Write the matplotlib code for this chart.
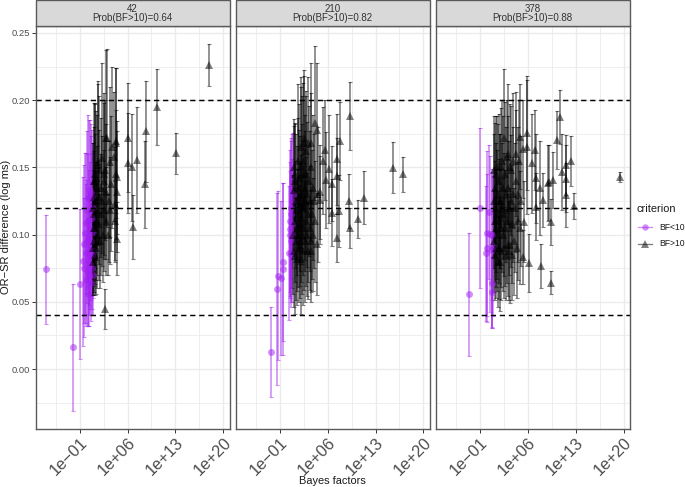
import matplotlib
matplotlib.use("Agg")
import matplotlib.pyplot as plt
from matplotlib.lines import Line2D
from matplotlib.patches import Rectangle
from matplotlib.ticker import FixedLocator, FixedFormatter, NullFormatter
import numpy as np

plt.rcParams['font.family'] = ['Liberation Sans', 'DejaVu Sans']

panel_names = ["42", "210", "378"]
panel_probs = ["Prob(BF>10)=0.64", "Prob(BF>10)=0.82", "Prob(BF>10)=0.88"]
reference_lines = [0.04, 0.12, 0.20]
x_tick_exponents = [-1, 6, 13, 20]
x_tick_labels = ["1e\u221201", "1e+06", "1e+13", "1e+20"]
y_tick_values = [0.00, 0.05, 0.10, 0.15, 0.20, 0.25]
y_tick_labels = ["0.00", "0.05", "0.10", "0.15", "0.20", "0.25"]

# log10 Bayes factor, mean, half-width of the interval
p42_low_x = [-5.94, -2.0, -1.0, -0.5, -0.4, -0.3, -0.2, -0.1, 0.0, 0.0,
             0.05, 0.1, 0.15, 0.2, 0.2, 0.25, 0.3, 0.3, 0.35, 0.4,
             0.45, 0.5, 0.5, 0.55, 0.6, 0.65, 0.7, 0.7, 0.75, 0.8,
             0.85, 0.85, 0.9, 0.92, 0.95, 0.98]
p42_low_m = [.0742, .0161, .0630, .0803, .0754, .0930, .1010, .1085, .0860, .0660,
             .1180, .0950, .1270, .0720, .1100, .0560, .0850, .1330, .0980, .0690,
             .1270, .0780, .1040, .0880, .1180, .0640, .1320, .0950, .0750, .1120,
             .0850, .1280, .0700, .1020, .0880, .1200]
p42_low_e = [.0405, .0475, .0557, .0628, .0517, .0590, .0600, .0525, .0520, .0340,
             .0590, .0460, .0620, .0400, .0500, .0240, .0450, .0520, .0500, .0370,
             .0580, .0380, .0500, .0430, .0550, .0280, .0500, .0440, .0350, .0490,
             .0400, .0500, .0300, .0450, .0350, .0480]

p42_high_x = [17.93, 13.15, 10.33, 8.77, 8.48, 7.41, 6.68, 6.78, 6.09, 6.09, 2.73,
              4.48, 4.48, 4.48, 4.35, 4.3, 4.25, 4.2, 4.1, 3.95, 3.75,
              3.6, 3.5, 3.46, 3.3, 3.2, 3.07, 2.87, 2.9, 2.8, 2.7,
              2.6, 2.55, 2.5, 2.4, 2.3, 2.2, 2.15, 2.05, 2.0, 1.9,
              1.85, 1.8, 1.7, 1.66, 1.6, 1.55, 1.5, 1.45, 1.4, 1.35,
              1.3, 1.25, 1.2, 1.2, 1.15, 1.1, 1.1, 1.05, 1.03, 1.02,
              1.0, 1.0, 1.27]
p42_high_m = [.2262, .1605, .1948, .1768, .1374, .1553, .1500, .1057, .1720, .1535, .0448,
              .1427, .1320, .0970, .1700, .1680, .1450, .1230, .1100, .1580, .1650,
              .1380, .1180, .1540, .1250, .1000, .1720, .1720, .1320, .1100, .1480,
              .1400, .1180, .1450, .1000, .1250, .1570, .1150, .1350, .0950, .1480,
              .1080, .1280, .1540, .1520, .1180, .1000, .1350, .1100, .0900, .1420,
              .1250, .1050, .1450, .0850, .1150, .1280, .0950, .1400, .1050, .0800,
              .1200, .0900, .1400]
p42_high_e = [.0157, .0152, .0284, .0375, .0325, .0393, .0396, .0241, .0406, .0373, .0149,
              .0420, .0450, .0270, .0540, .0560, .0480, .0420, .0300, .0480, .0600,
              .0500, .0400, .0560, .0450, .0300, .0660, .0650, .0500, .0400, .0520,
              .0580, .0450, .0600, .0350, .0480, .0710, .0450, .0520, .0350, .0550,
              .0420, .0500, .0600, .0600, .0480, .0400, .0540, .0440, .0340, .0500,
              .0500, .0420, .0520, .0300, .0470, .0520, .0380, .0580, .0430, .0250,
              .0480, .0350, .0580]

p210_low_x = [-2.27, -1.34, -1.3, -0.76, -0.56, -0.5, 0.32, 0.45, 0.5,
              0.55, 0.6, 0.62, 0.65, 0.7, 0.75, 0.8, 0.85, 0.9]
p210_low_m = [.0124, .0595, .0694, .0677, .0744, .0796, .0863, .1000, .1100,
              .1040, .1150, .0860, .1200, .0950, .1000, .1250, .1080, .1300]
p210_low_e = [.0335, .0711, .0627, .0575, .0640, .0590, .0500, .0470, .0530,
              .0500, .0550, .0400, .0520, .0450, .0500, .0500, .0480, .0456]

p210_high_x = [17.05, 15.49, 11.34, 10.37, 9.34, 9.05, 9.24, 7.78, 7.63, 7.3,
               7.39, 7.39, 6.7, 6.7, 6.17, 5.83, 5.59, 5.34, 4.85, 4.85,
               4.5, 4.12, 3.6,
               1.0, 1.05, 1.1, 1.15, 1.2, 1.25, 1.3, 1.3, 1.35, 1.4,
               1.45, 1.5, 1.55, 1.6, 1.65, 1.7, 1.75, 1.8, 1.85, 1.9,
               1.95, 2.0, 2.05, 2.07, 2.1, 2.15, 2.2, 2.25, 2.3, 2.35,
               2.4, 2.45, 2.5, 2.55, 2.6, 2.65, 2.7, 2.75, 2.8, 2.85,
               2.9, 2.95, 3.0, 3.1, 3.1, 3.2, 3.3, 3.4, 3.45, 3.5,
               3.6, 3.63, 3.7, 3.8, 3.9, 4.0, 4.2, 4.4, 4.6]
p210_high_m = [.1448, .1499, .1276, .1116, .1880, .1250, .1050, .1700, .1176, .0977,
               .1560, .1436, .1380, .1163, .1488, .1406, .1630, .1550, .1320, .1257,
               .1778, .1830, .1680,
               .1000, .1330, .0880, .1500, .0840, .1400, .1450, .1100, .0950, .1250,
               .0820, .1180, .1000, .1350, .1550, .1050, .1280, .0900, .1420, .1080,
               .1230, .0950, .1500, .0820, .1120, .1650, .1300, .1000, .1450, .0880,
               .1200, .1550, .1050, .1680, .1720, .1350, .0950, .1250, .1620, .1100,
               .1450, .1000, .1300, .1680, .1150, .0880, .1400, .1050, .1250, .0950,
               .1500, .0880, .1150, .1350, .1000, .1250, .1100, .0930, .1300]
p210_high_e = [.0133, .0192, .0197, .0141, .0253, .0200, .0150, .0290, .0270, .0180,
               .0340, .0280, .0280, .0250, .0400, .0360, .0370, .0400, .0350, .0330,
               .0500, .0570, .0600,
               .0440, .0480, .0420, .0360, .0430, .0420, .0380, .0450, .0440, .0500,
               .0340, .0480, .0420, .0520, .0570, .0440, .0500, .0400, .0550, .0460,
               .0500, .0420, .0600, .0410, .0470, .0520, .0520, .0440, .0580, .0400,
               .0500, .0580, .0460, .0500, .0505, .0540, .0450, .0520, .0450, .0480,
               .0580, .0460, .0540, .0490, .0500, .0360, .0560, .0460, .0520, .0380,
               .0550, .0380, .0480, .0540, .0420, .0500, .0450, .0380, .0500]

p378_low_x = [-2.56, -1.0, -0.02, 0.07, -0.07, 0.27, 0.51, 0.76, 0.9, 0.8, 0.8, 0.76]
p378_low_m = [.0555, .1198, .1010, .0900, .0860, .1168, .1003, .1000, .0915, .0885, .0643, .0575]
p378_low_e = [.0458, .0597, .0615, .0550, .0500, .0500, .0580, .0490, .0520, .0580, .0340, .0260]

p378_high_x = [19.44, 12.76, 12.27, 11.63, 11.63, 11.6, 11.0, 10.66, 10.27, 9.34,
               9.34, 9.73, 9.15, 8.9, 8.2, 7.83, 7.88, 7.05, 7.15, 7.15,
               6.66, 6.1, 5.83, 5.83, 5.29, 5.5, 5.3, 4.8,
               1.0, 1.05, 1.1, 1.15, 1.2, 1.25, 1.3, 1.3, 1.35, 1.4,
               1.45, 1.5, 1.55, 1.6, 1.7, 1.75, 1.8, 1.85, 1.9, 2.0,
               2.0, 2.05, 2.1, 2.15, 2.2, 2.25, 2.3, 2.4, 2.45, 2.5,
               2.56, 2.6, 2.7, 2.75, 2.8, 2.9, 3.0, 3.05, 3.1, 3.15,
               3.2, 3.3, 3.4, 3.44, 3.5, 3.6, 3.65, 3.7, 3.8, 3.9,
               4.0, 4.1, 4.2, 4.3, 4.4, 4.5, 4.6, 4.7, 4.85, 5.0]
p378_high_m = [.1429, .1213, .1545, .1518, .1416, .1295, .1466, .1877, .1704, .1096,
               .0642, .1406, .1390, .1385, .1257, .1346, .0766, .1630, .1420, .1208,
               .1530, .0789, .1756, .1650, .0836, .1096, .1637, .1729,
               .1250, .0950, .1480, .1100, .0850, .1350, .1450, .1050, .1200, .0900,
               .1500, .1150, .1000, .1300, .0800, .1400, .1100, .0900, .1250, .0800,
               .1250, .1500, .1050, .0880, .1550, .1200, .1000, .1350, .0900, .1150,
               .1720, .1450, .1050, .0850, .1300, .1580, .1100, .0920, .1600, .1350,
               .1200, .0880, .1500, .0920, .1250, .1480, .1080, .0850, .1300, .1550,
               .0950, .1200, .1400, .1600, .0900, .1100, .1300, .1550, .1050, .1250]
p378_high_e = [.0036, .0098, .0185, .0220, .0250, .0238, .0280, .0200, .0216, .0170,
               .0085, .0210, .0280, .0280, .0200, .0350, .0163, .0297, .0330, .0250,
               .0370, .0214, .0424, .0500, .0200, .0300, .0363, .0390,
               .0500, .0380, .0400, .0450, .0340, .0480, .0430, .0440, .0480, .0370,
               .0380, .0480, .0420, .0520, .0340, .0500, .0460, .0380, .0500, .0370,
               .0500, .0440, .0440, .0370, .0450, .0480, .0420, .0530, .0370, .0460,
               .0513, .0540, .0430, .0340, .0500, .0420, .0460, .0380, .0518, .0530,
               .0500, .0370, .0470, .0430, .0490, .0480, .0440, .0340, .0500, .0500,
               .0400, .0480, .0530, .0460, .0370, .0440, .0500, .0450, .0420, .0480]

low_sets = [(p42_low_x, p42_low_m, p42_low_e), (p210_low_x, p210_low_m, p210_low_e), (p378_low_x, p378_low_m, p378_low_e)]
high_sets = [(p42_high_x, p42_high_m, p42_high_e), (p210_high_x, p210_high_m, p210_high_e), (p378_high_x, p378_high_m, p378_high_e)]

W, H = 685, 487
fig = plt.figure(figsize=(W / 100, H / 100), dpi=100)

PURPLE = "#A020F0"
BLACK = "#000000"
GRID = "#EBEBEB"
BORDER = "#5A5A5A"
panel_left = [35.5, 235.6, 435.8]
panel_w = 194.0
panel_top, panel_bottom = 26.0, 429.0
strip_top = 0.5


def draw(ax, xs, ms, es, color, marker, ms_size):
    x = 10.0 ** np.array(xs)
    m = np.array(ms)
    e = np.array(es)
    ax.errorbar(x, m, yerr=e, fmt='none', ecolor=color, alpha=0.5, elinewidth=1.2,
                capsize=1.7, capthick=0.8, zorder=3)
    ax.plot(x, m, linestyle='none', marker=marker, color=color, alpha=0.5,
            markersize=ms_size, markeredgewidth=0, zorder=3.1)


axes = []
for i in range(3):
    l = panel_left[i]
    ax = fig.add_axes([l / W, 1 - panel_bottom / H, panel_w / W, (panel_bottom - panel_top) / H])
    axes.append(ax)
    ax.set_xscale('log')
    ax.set_xlim(10.0 ** -7.45, 10.0 ** 20.9)
    ax.set_ylim(-0.0446, 0.2552)
    ax.set_axisbelow(True)

    ax.xaxis.set_major_locator(FixedLocator([10.0 ** v for v in x_tick_exponents]))
    ax.xaxis.set_major_formatter(FixedFormatter(x_tick_labels))
    ax.xaxis.set_minor_locator(FixedLocator([10.0 ** v for v in (-4.5, 2.5, 9.5, 16.5)]))
    ax.xaxis.set_minor_formatter(NullFormatter())
    ax.set_yticks(y_tick_values)
    ax.set_yticklabels(y_tick_labels if i == 0 else [])
    ax.set_yticks([-0.025, 0.025, 0.075, 0.125, 0.175, 0.225], minor=True)

    ax.grid(True, which='major', color=GRID, linewidth=1.0)
    ax.grid(True, which='minor', color=GRID, linewidth=0.6)
    ax.tick_params(axis='x', which='major', length=2.6, width=0.7, color='#333333',
                   labelsize=11.8, labelcolor='#4D4D4D', pad=1.5)
    ax.tick_params(axis='y', which='major', length=2.6 if i == 0 else 0, width=0.7, color='#333333',
                   labelsize=6.8, labelcolor='#4D4D4D', pad=1.5)
    ax.tick_params(axis='both', which='minor', length=0)
    for lab in ax.get_xticklabels():
        lab.set_rotation(45)
        lab.set_ha('right')
        lab.set_va('top')
        lab.set_rotation_mode('anchor')
    for s in ax.spines.values():
        s.set_color(BORDER)
        s.set_linewidth(1.0)
        s.set_zorder(5)

    lx, lm, le = low_sets[i]
    hx, hm, he = high_sets[i]
    draw(ax, lx, lm, le, PURPLE, 'o', 5.0)
    draw(ax, hx, hm, he, BLACK, '^', 6.0)
    for r in reference_lines:
        ax.axhline(r, color='black', linewidth=1.05, linestyle=(0, (3.6, 2.6)), zorder=4)

    fig.add_artist(Rectangle((l / W, 1 - panel_top / H), panel_w / W, (panel_top - strip_top) / H,
                             transform=fig.transFigure, facecolor='#D9D9D9', edgecolor=BORDER, linewidth=1.0))
    cx = (l + panel_w / 2) / W
    fig.text(cx, 1 - 8.8 / H, panel_names[i], ha='center', va='center', fontsize=7.0, color='#333333')
    fig.text(cx, 1 - 18.0 / H, panel_probs[i], ha='center', va='center', fontsize=7.0, color='#333333')

fig.text((panel_left[1] + panel_w / 2) / W, 1 - 481 / H, "Bayes factors", ha='center', va='center',
         fontsize=7.9, color='#1A1A1A')
fig.text(6.3 / W, 1 - 227 / H, "OR\u2212SR difference (log ms)", rotation=90, ha='center', va='center',
         fontsize=8.0, color='#1A1A1A')

handles = [
    Line2D([0], [0], color=PURPLE, alpha=0.5, linewidth=0.95, marker='o', markersize=4.6, markeredgewidth=0),
    Line2D([0], [0], color=BLACK, alpha=0.5, linewidth=0.95, marker='^', markersize=5.6, markeredgewidth=0),
]
fig.text(636.5 / W, 1 - 208.5 / H, "criterion", ha='left', va='center', fontsize=7.9, color='#1A1A1A')
for h, yp, txt in zip(handles, (227, 243.7), ("BF<10", "BF>10")):
    line = Line2D([638 / W, 652 / W], [1 - yp / H, 1 - yp / H], transform=fig.transFigure,
                  color=h.get_color(), alpha=0.5, linewidth=0.95)
    fig.add_artist(line)
    mark = Line2D([645 / W], [1 - yp / H], transform=fig.transFigure, linestyle='none',
                  marker=h.get_marker(), markersize=h.get_markersize(), markeredgewidth=0,
                  color=h.get_color(), alpha=0.5)
    fig.add_artist(mark)
    fig.text(659 / W, 1 - yp / H, txt, ha='left', va='center', fontsize=6.2, color='#1A1A1A')

fig.savefig("out.png", dpi=100)
